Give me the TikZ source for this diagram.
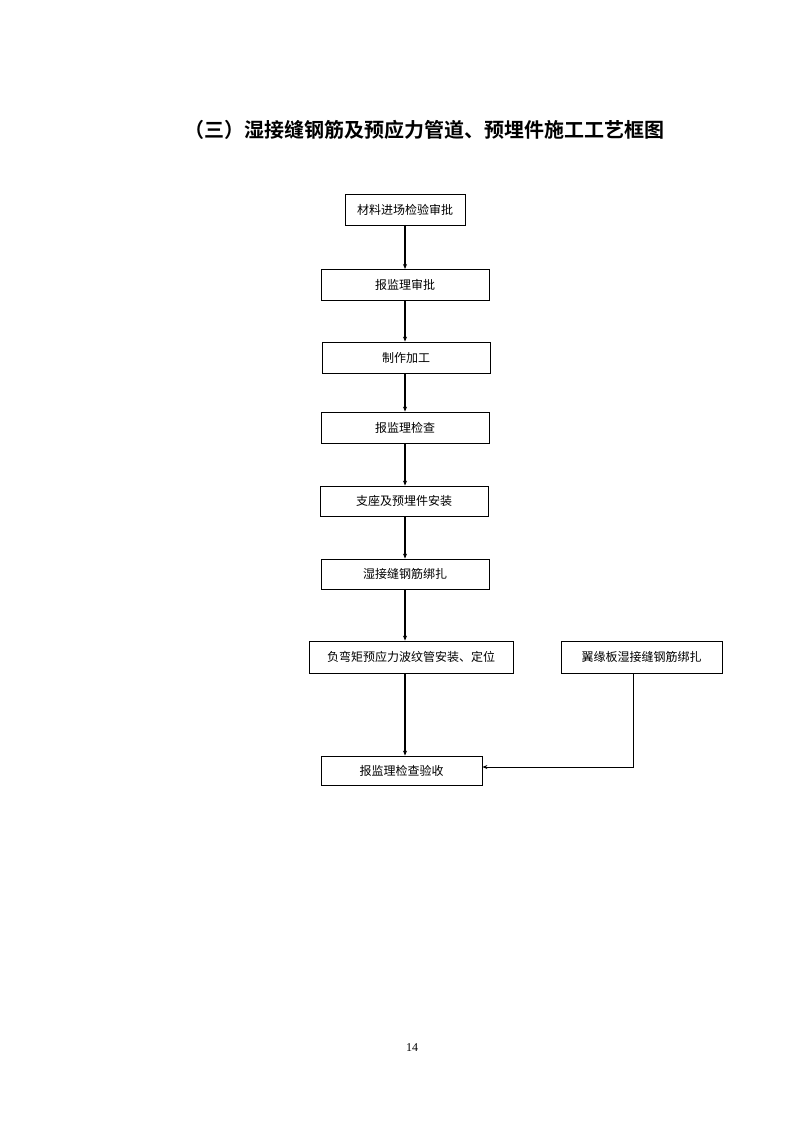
\documentclass[tikz,border=0pt]{standalone}
\usepackage{fontspec}
\setmainfont{Liberation Serif}
\newfontfamily\cjk{Noto Sans CJK SC}
\newfontfamily\cjkb{Noto Sans CJK SC Bold}
\usetikzlibrary{arrows.meta}
\begin{document}
\begin{tikzpicture}[x=1pt,y=-1pt,
  box/.style={draw,line width=0.8pt,minimum height=31pt,inner sep=0pt,font=\cjk\fontsize{12}{14}\selectfont},
  flow/.style={line width=1.8pt,-{Stealth[length=5pt,width=4pt]}},
  thin/.style={line width=0.9pt,-{Stealth[length=5pt,width=4pt]}}]
\useasboundingbox[fill=white] (0,0) rectangle (794,1123);
\node[font=\cjkb\fontsize{20}{23}\selectfont] (title) at (424,130) {（三）湿接缝钢筋及预应力管道、预埋件施工工艺框图};
\node[box,minimum width=120pt] (b1) at (405,209.5) {材料进场检验审批};
\node[box,minimum width=168pt] (b2) at (405,284.5) {报监理审批};
\node[box,minimum width=168pt] (b3) at (406,357.5) {制作加工};
\node[box,minimum width=168pt] (b4) at (405,427.5) {报监理检查};
\node[box,minimum width=168pt,minimum height=30pt] (b5) at (404,501) {支座及预埋件安装};
\node[box,minimum width=168pt,minimum height=30pt] (b6) at (405,574) {湿接缝钢筋绑扎};
\node[box,minimum width=204pt,minimum height=32pt] (b7) at (411,657) {负弯矩预应力波纹管安装、定位};
\node[box,minimum width=161pt,minimum height=32pt] (b8) at (641.5,657) {翼缘板湿接缝钢筋绑扎};
\node[box,minimum width=161pt,minimum height=29pt] (b9) at (401.5,770.5) {报监理检查验收};
\coordinate (corner) at (633,767);
\draw[flow] (405,225) -- (405,269);
\draw[flow] (b2.south -| 405,0) -- (b3.north -| 405,0);
\draw[flow] (b3.south -| 405,0) -- (b4.north -| 405,0);
\draw[flow] (b4.south -| 405,0) -- (b5.north -| 405,0);
\draw[flow] (b5.south -| 405,0) -- (b6.north -| 405,0);
\draw[flow] (b6.south -| 405,0) -- (b7.north -| 405,0);
\draw[flow] (b7.south -| 405,0) -- (b9.north -| 405,0);
\draw[thin] (b8.south -| corner) -- (corner) -- (b9.east |- corner);
\node[font=\fontsize{12}{14}\selectfont] (pg) at (412,1048) {14};
\end{tikzpicture}
\end{document}
